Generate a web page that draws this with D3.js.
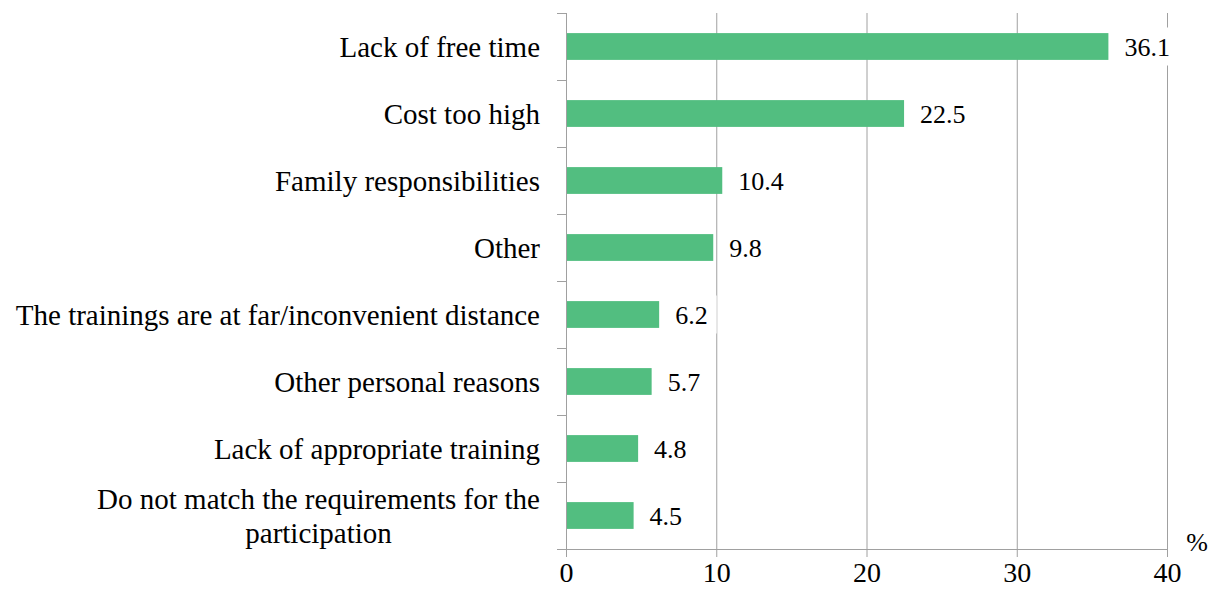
<!DOCTYPE html>
<html>
<head>
<meta charset="utf-8">
<script src="https://cdn.jsdelivr.net/npm/d3@7"></script>
<style>
  body { margin: 0; background: #fff; }
  text { font-family: "Liberation Serif", "Times New Roman", serif; fill: #000; }
</style>
</head>
<body>
<svg id="chart" width="1210" height="590"></svg>
<script>

//  reasons, top to bottom
var categories = [
    'Lack of free time',
    'Cost too high',
    'Family responsibilities',
    'Other',
    'The trainings are at far/inconvenient distance',
    'Other personal reasons',
    'Lack of appropriate training',
    'Do not match the requirements for the|participation'
];

var values = [36.1, 22.5, 10.4, 9.8, 6.2, 5.7, 4.8, 4.5];

var x_ticks = [0, 10, 20, 30, 40];

var data = categories.map(function(c, i) { return { name: c, value: values[i] }; });

var margin = { top: 13, left: 566, right: 43, bottom: 41 };
var width = 1210 - margin.left - margin.right;
var height = 590 - margin.top - margin.bottom;

var axis_color = '#a0a0a0';
var bar_color = '#52be80';
var cat_size = 29;

var svg = d3.select('#chart');
var g = svg.append('g').attr('transform', 'translate(' + margin.left + ',' + margin.top + ')');

var x = d3.scaleLinear().domain([0, 40]).range([0, width]);

var y = d3.scaleBand()
    .domain(categories)
    .range([0, height])
    .paddingInner(0.6)
    .paddingOuter(0.3);

//  band edges for the category ticks
var step = height / categories.length;

//  vertical gridlines
g.selectAll('.grid')
    .data(x_ticks.slice(1))
    .enter().append('line')
    .attr('x1', function(d) { return x(d) + 0.5; })
    .attr('x2', function(d) { return x(d) + 0.5; })
    .attr('y1', 0)
    .attr('y2', height)
    .attr('stroke', axis_color)
    .attr('stroke-width', 1);

//  bottom axis
var xAxis = g.append('g')
    .attr('transform', 'translate(0,' + height + ')')
    .call(d3.axisBottom(x).tickValues(x_ticks).tickSize(8).tickSizeOuter(0));

xAxis.select('.domain').attr('stroke', axis_color);
xAxis.selectAll('.tick line').attr('stroke', axis_color);
xAxis.selectAll('.tick text')
    .attr('y', 13)
    .attr('font-size', '28px')
    .attr('font-family', '"Liberation Serif", "Times New Roman", serif')
    .attr('fill', '#000');

//  left axis line and category ticks
g.append('line')
    .attr('x1', 0.5).attr('x2', 0.5)
    .attr('y1', 0).attr('y2', height)
    .attr('stroke', axis_color);

g.selectAll('.ytick')
    .data(d3.range(categories.length + 1))
    .enter().append('line')
    .attr('x1', -9).attr('x2', 0)
    .attr('y1', function(d) { return Math.round(d * step) + 0.5; })
    .attr('y2', function(d) { return Math.round(d * step) + 0.5; })
    .attr('stroke', axis_color);

//  bars
g.selectAll('.bar')
    .data(data)
    .enter().append('rect')
    .attr('x', 1)
    .attr('y', function(d) { return y(d.name); })
    .attr('width', function(d) { return x(d.value) - 1; })
    .attr('height', y.bandwidth())
    .attr('fill', bar_color);

//  value labels with white box behind them
var labels = g.selectAll('.val')
    .data(data)
    .enter().append('g')
    .attr('transform', function(d) {
        return 'translate(' + x(d.value) + ',' + (y(d.name) + y.bandwidth() / 2) + ')';
    });

labels.append('text')
    .attr('x', 16)
    .attr('dy', '0.35em')
    .attr('font-size', '26px')
    .text(function(d) { return d.value.toFixed(1); })
    .each(function() {
        var b = this.getBBox();
        d3.select(this.parentNode).insert('rect', 'text')
            .attr('x', b.x - 8)
            .attr('y', -19)
            .attr('width', b.width + 17)
            .attr('height', 38)
            .attr('fill', '#fff');
    });

//  category labels
var cats = g.selectAll('.cat')
    .data(data)
    .enter().append('text')
    .attr('font-size', cat_size + 'px')
    .attr('text-anchor', 'end')
    .attr('x', -26)
    .attr('y', function(d) { return y(d.name) + y.bandwidth() / 2; });

cats.each(function(d) {
    var lines = d.name.split('|');
    var sel = d3.select(this);
    if (lines.length === 1) {
        sel.append('tspan').attr('dy', '0.35em').text(lines[0]);
    } else {
        var lw = 34;
        var first = sel.append('tspan').attr('dy', (0.35 * cat_size - lw / 2) + 'px').text(lines[0]);
        var w = first.node().getComputedTextLength();
        sel.append('tspan')
            .attr('x', -26 - w / 2)
            .attr('text-anchor', 'middle')
            .attr('dy', lw + 'px')
            .text(lines[1]);
    }
});

//  unit
g.append('text')
    .attr('x', width + 30)
    .attr('y', height + 2)
    .attr('text-anchor', 'middle')
    .attr('font-size', '26px')
    .text('%');

</script>
</body>
</html>
